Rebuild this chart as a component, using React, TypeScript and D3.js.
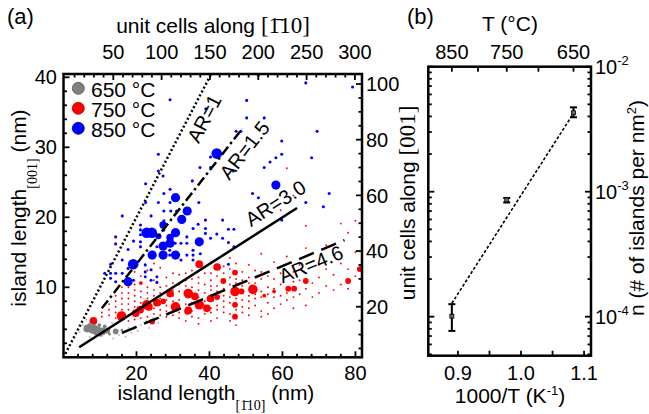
import React from 'react';
import * as d3 from 'd3';

const SANS = '"Liberation Sans", Arial, sans-serif';
const SERIF = '"Liberation Serif", "Times New Roman", serif';

// ---- panel (a): islands [length along [1-10] (nm), length along [001] (nm), count]
const islands850: [number, number, number][] = [
  [53.4, 40.3, 1], [66.4, 39.2, 1], [79.2, 38.6, 1], [29.2, 36.8, 1], [50.2, 36.7, 1], [39.0, 35.5, 1],
  [50.2, 34.2, 1], [55.0, 34.2, 1], [47.3, 32.3, 1], [48.6, 32.3, 1], [69.5, 32.3, 1], [59.8, 30.9, 1],
  [42.0, 29.1, 12], [59.8, 29.0, 1], [58.2, 28.5, 1], [56.6, 27.9, 1], [55.0, 27.1, 1], [68.0, 28.5, 1],
  [40.3, 27.1, 1], [46.5, 26.6, 1], [26.0, 29.0, 1], [26.0, 26.6, 1], [27.3, 25.9, 1], [22.5, 24.8, 1],
  [29.2, 24.0, 1], [27.5, 23.4, 1], [30.7, 22.8, 9], [22.5, 22.1, 1], [26.0, 22.1, 1], [29.2, 22.1, 1],
  [37.1, 22.1, 1], [35.3, 25.2, 1], [37.4, 27.1, 1], [40.3, 28.6, 1], [58.2, 24.6, 9], [51.8, 23.4, 1],
  [53.4, 22.8, 1], [72.8, 23.4, 1], [66.4, 22.1, 1], [71.2, 21.5, 1], [33.9, 20.9, 9], [27.5, 20.9, 1],
  [29.4, 20.9, 1], [31.0, 20.9, 1], [43.6, 19.6, 1], [59.8, 19.6, 1], [42.0, 17.6, 1], [45.2, 18.3, 1],
  [46.7, 18.3, 1], [40.3, 17.0, 1], [43.6, 17.0, 1], [45.2, 16.4, 1], [46.7, 15.8, 1], [45.2, 13.3, 1],
  [32.4, 19.7, 9], [37.2, 16.5, 9], [24.2, 17.8, 12], [22.8, 17.8, 12], [27.3, 18.9, 6], [30.7, 17.8, 9],
  [29.2, 17.1, 6], [27.3, 15.9, 9], [26.0, 17.3, 4], [24.3, 14.6, 9], [27.3, 14.6, 9], [30.7, 14.6, 9],
  [19.1, 13.3, 12], [17.7, 10.8, 9], [29.2, 16.3, 9],
  [16.1, 20.2, 1], [21.1, 18.9, 1], [21.1, 18.2, 1], [21.1, 17.5, 1], [21.1, 16.5, 1], [21.1, 15.8, 1],
  [14.3, 17.2, 1], [14.3, 16.2, 1], [12.9, 12.0, 1], [12.9, 11.3, 1], [14.3, 12.0, 1], [14.3, 10.8, 1],
  [16.1, 13.9, 1], [16.1, 12.0, 1], [17.7, 12.7, 1], [22.4, 13.2, 1], [22.4, 12.2, 1], [22.4, 11.5, 1],
  [24.0, 12.5, 1], [24.0, 11.0, 1], [25.6, 11.5, 1], [25.6, 10.7, 1], [27.5, 18.2, 1], [27.5, 19.5, 1],
  [30.6, 16.3, 1], [32.2, 16.3, 1], [33.8, 17.2, 1], [33.8, 16.3, 1], [35.5, 15.3, 1], [35.5, 14.6, 1],
  [35.5, 13.9, 1], [37.5, 14.8, 1], [38.9, 19.6, 1], [38.9, 18.4, 1], [38.9, 17.7, 1], [29.1, 15.3, 1],
  [29.1, 14.6, 1], [25.6, 15.8, 1], [19.2, 11.0, 1], [17.7, 15.4, 1], [19.2, 16.6, 1], [32.2, 13.9, 1],
  [33.8, 14.6, 1], [24.0, 20.2, 1], [35.5, 18.4, 1], [36.9, 19.0, 1], [12.9, 13.3, 1], [11.3, 12.0, 1],
];

const islands750Large: [number, number, number][] = [
  [37.2, 13.3, 16], [42.1, 12.9, 16], [47.0, 9.4, 25], [51.9, 9.7, 25], [34.2, 9.1, 25], [37.2, 7.5, 25],
  [34.2, 6.7, 16], [29.2, 9.1, 16], [22.8, 7.5, 25], [21.0, 6.8, 16], [19.8, 6.3, 16], [15.9, 5.9, 25],
  [8.2, 5.2, 16], [40.3, 8.4, 16], [30.7, 7.2, 25], [24.3, 5.1, 9], [47.0, 12.1, 9], [43.8, 10.9, 9],
  [48.8, 9.4, 9], [42.1, 8.6, 9], [47.0, 7.5, 9], [47.0, 5.8, 9], [61.6, 9.8, 9], [63.2, 9.8, 9],
  [66.4, 10.9, 9], [78.0, 10.9, 9], [81.2, 12.6, 9], [25.6, 7.8, 16], [27.3, 8.0, 9], [36.0, 8.7, 16],
  [39.3, 7.0, 16], [33.9, 6.5, 9], [23.4, 7.2, 16], [21.2, 10.6, 4], [55.0, 8.8, 4], [57.7, 9.4, 4],
];

// single islands, one column of lengths along [001] for each length along [1-10]
const islands750Columns: [number, number[]][] = [
  [10.5, [5.8, 6.4]],
  [12.5, [6.0, 6.8, 7.6]],
  [14.3, [5.6, 6.4, 7.2, 8.0, 8.8]],
  [16.0, [6.8, 7.6, 8.4, 9.2, 10.0]],
  [17.8, [5.2, 6.0, 6.8, 7.6, 8.4, 9.2, 10.0, 11.2]],
  [19.5, [5.4, 7.2, 8.0, 8.8, 9.6, 10.4, 12.2]],
  [21.2, [5.6, 7.8, 8.6, 9.4, 11.6]],
  [23.0, [5.8, 8.4, 9.2, 10.0, 12.4]],
  [24.8, [6.2, 7.0, 8.0, 8.8, 9.6, 11.0, 13.4]],
  [26.5, [6.0, 6.8, 7.6, 8.4, 9.2, 10.0, 12.8]],
  [28.2, [5.8, 6.6, 7.4, 8.2, 10.2, 11.4]],
  [30.0, [6.0, 8.0, 8.8, 9.6, 10.6, 12.0]],
  [31.7, [5.6, 6.4, 8.2, 9.4, 10.4, 11.8]],
  [33.5, [5.2, 7.6, 10.2, 11.0, 12.0]],
  [35.2, [5.8, 6.6, 7.8, 9.0, 10.0, 11.2, 12.4]],
  [37.0, [4.8, 5.6, 8.6, 9.6, 10.6, 11.4]],
  [38.7, [6.2, 7.4, 8.0, 9.2, 10.4, 12.0]],
  [40.4, [5.2, 6.4, 7.0, 9.6, 10.2, 11.0, 12.0, 13.6]],
  [42.1, [5.6, 6.8, 7.4, 9.4, 10.2, 11.6, 14.0]],
  [43.9, [6.4, 7.2, 8.0, 8.8, 9.8, 12.0, 13.0]],
  [45.6, [5.2, 6.2, 7.8, 8.6, 10.4, 11.4, 12.6, 14.2]],
  [47.3, [4.6, 6.8, 8.4, 10.6, 11.2, 13.4]],
  [49.0, [6.4, 7.2, 8.2, 10.2, 11.0, 12.2]],
  [50.8, [6.0, 7.0, 8.0, 8.8, 10.6, 11.4, 13.2]],
  [52.5, [7.4, 8.4, 9.0, 10.6, 12.4]],
  [54.2, [5.8, 6.6, 8.6, 9.4, 11.2, 12.2, 14.8]],
  [56.0, [6.2, 7.8, 9.0, 10.0, 11.6]],
  [57.7, [7.0, 8.6, 9.8, 11.2, 13.6]],
  [59.5, [7.6, 8.8, 10.4, 12.0, 21.0]],
  [61.2, [8.2, 9.2, 11.6, 14.4, 27.0]],
  [63.0, [7.0, 8.6, 10.8, 12.2, 23.1]],
  [64.7, [9.0, 11.0, 13.2]],
  [66.4, [7.4, 9.8, 12.0, 15.6, 18.8]],
  [68.2, [8.6, 10.6]],
  [70.0, [9.2, 11.4, 13.2]],
  [72.0, [10.2, 12.6, 16.0]],
  [74.0, [9.6, 11.8]],
  [76.0, [10.4, 13.4, 19.1]],
  [78.0, [9.8, 12.6, 17.8]],
  [80.0, [11.6, 15.0, 19.5]],
];

const islands650: [number, number, number][] = [
  [6.5, 4.1, 16], [7.4, 4.2, 25], [8.3, 4.0, 25], [9.3, 3.9, 16], [10.6, 3.7, 16], [12.0, 3.8, 9],
  [14.3, 3.7, 9], [9.8, 4.6, 4], [11.3, 4.4, 4], [8.8, 3.4, 4], [10.2, 3.2, 4], [12.6, 3.3, 2],
  [16.0, 3.9, 2], [17.8, 4.2, 1], [19.5, 4.4, 1], [21.2, 4.6, 1], [5.3, 4.6, 1], [6.2, 5.4, 1],
  [13.3, 4.9, 1], [15.2, 3.2, 1], [18.6, 3.5, 1], [22.6, 5.2, 1], [24.5, 5.6, 1], [26.0, 4.9, 1],
  [20.3, 3.8, 1], [23.5, 4.2, 1], [4.4, 3.6, 1], [7.2, 2.9, 1], [13.6, 2.7, 1], [17.0, 2.9, 1],
];

// aspect ratio guides
const arValues = [1, 1.5, 3.0, 4.6];
const arNames = ['AR=1', 'AR=1.5', 'AR=3.0', 'AR=4.6'];
const arFrom = [0.5, 10.5, 4.3, 16];
const arTo = [40.4, 49, 64, 77];

// ---- panel (b): island density vs temperature
const tempC = [850, 750, 650];
const density = [1.01e-4, 8.6e-4, 4.28e-3];
const densityLow = [7.7e-5, 8.2e-4, 3.94e-3];
const densityHigh = [1.26e-4, 8.9e-4, 4.73e-3];
const fitDensity = [1.28e-4, 4.24e-3];
const topTempTicks = [850, 800, 750, 700, 650];
const topTempLabels = [850, 750, 650];

const invT = (c: number) => 1000 / (c + 273.15);

export default function App() {
  // panel (a) scales
  const x = d3.scaleLinear().domain([0, 81.8]).range([63.5, 362]);
  const y = d3.scaleLinear().domain([0, 40.47]).range([357.3, 74]);
  const xTop = d3.scaleLinear().domain([-1.5, 307.3]).range([63.5, 362]);
  const yRight = d3.scaleLinear().domain([1.83, 103.6]).range([357.3, 74]);
  const rBlue = d3.scaleSqrt().domain([0, 12]).range([0, 5.3]);
  const rRed = d3.scaleSqrt().domain([0, 25]).range([0, 4.8]);

  // panel (b) scales
  const bx = d3.scaleLinear().domain([0.853, 1.111]).range([428.3, 591]);
  const by = d3.scaleLog().domain([Math.pow(10, -4.312), 1e-2]).range([355.7, 66.7]);

  const [ax0, ax1] = x.range();
  const [ay0, ay1] = y.range();
  const [bx0, bx1] = bx.range();
  const [by0, by1] = by.range();

  const red750 = [
    ...islands750Columns.flatMap(([cx, ys]) => ys.map((v) => [cx, v, 1] as [number, number, number])),
    ...islands750Large,
  ];

  const tick = (x1: number, y1: number, x2: number, y2: number, k: string) => (
    <line key={k} x1={x1} y1={y1} x2={x2} y2={y2} stroke="#000" strokeWidth={1.8} />
  );

  // ticks for panel (a)
  const aTicks: JSX.Element[] = [];
  d3.range(2, 41, 2).forEach((v) => {
    const len = v % 10 === 0 ? 6 : 3.5;
    aTicks.push(tick(ax0, y(v), ax0 + len, y(v), `l${v}`));
  });
  d3.range(5, 104, 5).forEach((v) => {
    const len = v % 20 === 0 ? 6 : 3.5;
    aTicks.push(tick(ax1, yRight(v), ax1 - len, yRight(v), `r${v}`));
  });
  d3.range(4, 82, 4).forEach((v) => {
    const len = v % 20 === 0 ? 6 : 3.5;
    aTicks.push(tick(x(v), ay0, x(v), ay0 - len, `b${v}`));
  });
  d3.range(10, 307, 10).forEach((v) => {
    const len = v % 50 === 0 ? 6 : 3.5;
    aTicks.push(tick(xTop(v), ay1, xTop(v), ay1 + len, `t${v}`));
  });

  // ticks for panel (b)
  const bTicks: JSX.Element[] = [];
  by.ticks().forEach((v, i) => {
    const major = Math.abs(Math.log10(v) - Math.round(Math.log10(v))) < 1e-6;
    const len = major ? 6 : 3.5;
    bTicks.push(tick(bx0, by(v), bx0 + len, by(v), `bl${i}`));
    bTicks.push(tick(bx1, by(v), bx1 - len, by(v), `br${i}`));
  });
  [0.9, 0.95, 1.0, 1.05, 1.1].forEach((v, i) => {
    bTicks.push(tick(bx(v), by0, bx(v), by0 - 5, `bb${i}`));
  });
  topTempTicks.forEach((t) => {
    bTicks.push(tick(bx(invT(t)), by1, bx(invT(t)), by1 + 5, `bt${t}`));
  });

  const legend = [
    { label: '650 °C', fill: '#808080', stroke: '#555' },
    { label: '750 °C', fill: '#ff0000', stroke: '#b00000' },
    { label: '850 °C', fill: '#0000ff', stroke: '#0000a0' },
  ];

  const arDash = ['2,2.4', '10,3.5,2.5,3.5', undefined, '16,8'];
  const arLabelAt: [number, number][] = [[38.6, 34.1], [49.6, 29.6], [58.1, 22.0], [67.8, 13.3]];

  return (
    <svg width={649} height={414} style={{ display: 'block', position: 'absolute', left: 0, top: 0 }} fontFamily={SANS}>
      <rect width={649} height={414} fill="#fff" />

      {/* ---------- panel (a) ---------- */}
      <text x={7} y={24} fontSize={22}>(a)</text>

      {red750.map(([a, b, n], i) => (
        <circle key={`r${i}`} cx={x(a)} cy={y(b)} r={rRed(n)} fill="#ff0000" />
      ))}
      {islands850.map(([a, b, n], i) => (
        <circle key={`u${i}`} cx={x(a)} cy={y(b)} r={rBlue(n)} fill="#0000ff" />
      ))}
      {islands650.map(([a, b, n], i) => (
        <circle key={`g${i}`} cx={x(a)} cy={y(b)} r={rRed(n)} fill={n > 1 ? '#808080' : '#b4b4b4'} />
      ))}

      {arValues.map((ar, i) => (
        <line key={`ar${i}`} x1={x(arFrom[i])} y1={y(arFrom[i] / ar)} x2={x(arTo[i])} y2={y(arTo[i] / ar)}
          stroke="#000" strokeWidth={2.5} strokeDasharray={arDash[i]} />
      ))}
      {arValues.map((ar, i) => {
        const ang = (Math.atan2(y(10 / ar) - y(0), x(10) - x(0)) * 180) / Math.PI;
        const [lx, ly] = arLabelAt[i];
        return (
          <text key={`arl${i}`} transform={`translate(${x(lx)},${y(ly)}) rotate(${ang})`}
            textAnchor="middle" dominantBaseline="central" fontSize={20}>{arNames[i]}</text>
        );
      })}

      {legend.map((d, i) => (
        <g key={d.label}>
          <circle cx={78.3} cy={88.3 + i * 20} r={6} fill={d.fill} stroke={d.stroke} strokeWidth={0.8} />
          <text x={91} y={96.5 + i * 20} fontSize={21}>{d.label}</text>
        </g>
      ))}

      <rect x={ax0} y={ay1} width={ax1 - ax0} height={ay0 - ay1} fill="none" stroke="#000" strokeWidth={2.5} />
      {aTicks}

      {[10, 20, 30, 40].map((v) => (
        <text key={`yl${v}`} x={57} y={y(v) + 7.2} fontSize={20} textAnchor="end">{v}</text>
      ))}
      {[20, 40, 60, 80].map((v) => (
        <text key={`xl${v}`} x={x(v)} y={380} fontSize={20} textAnchor="middle">{v}</text>
      ))}
      {[50, 100, 150, 200, 250, 300].map((v) => (
        <text key={`tl${v}`} x={xTop(v)} y={59} fontSize={20} textAnchor="middle">{v}</text>
      ))}
      {[20, 40, 60, 80, 100].map((v) => (
        <text key={`rl${v}`} x={366} y={yRight(v) + 7.2} fontSize={20}>{v}</text>
      ))}

      <text x={213} y={33} fontSize={21} textAnchor="middle">
        unit cells along <tspan fontFamily={SERIF} fontSize={23}>[1{'\u0304'}10]</tspan>
      </text>
      <text x={216} y={400} fontSize={21} textAnchor="middle">
        island length<tspan fontFamily={SERIF} fontSize={14} dy={10}>[1{'\u0304'}10]</tspan>
        <tspan dy={-10}> (nm)</tspan>
      </text>
      <text transform="translate(26,208) rotate(-90)" fontSize={21} textAnchor="middle">
        island length<tspan fontFamily={SERIF} fontSize={14} dy={11}>[001]</tspan>
        <tspan dy={-11}> (nm)</tspan>
      </text>
      <text transform="translate(415,203) rotate(-90)" fontSize={21} textAnchor="middle">
        unit cells along <tspan fontFamily={SERIF} fontSize={23}>[001]</tspan>
      </text>

      {/* ---------- panel (b) ---------- */}
      <text x={407} y={24} fontSize={22}>(b)</text>
      <text x={510} y={31} fontSize={21} textAnchor="middle">T (°C)</text>

      <line x1={bx(invT(tempC[0]))} y1={by(fitDensity[0])} x2={bx(invT(tempC[2]))} y2={by(fitDensity[1])}
        stroke="#000" strokeWidth={1.6} strokeDasharray="3,2" />

      {tempC.map((t, i) => {
        const cx = bx(invT(t));
        return (
          <g key={`pt${t}`}>
            <line x1={cx} y1={by(densityLow[i])} x2={cx} y2={by(densityHigh[i])} stroke="#000" strokeWidth={2} />
            <line x1={cx - 3.5} y1={by(densityLow[i])} x2={cx + 3.5} y2={by(densityLow[i])} stroke="#000" strokeWidth={2} />
            <line x1={cx - 3.5} y1={by(densityHigh[i])} x2={cx + 3.5} y2={by(densityHigh[i])} stroke="#000" strokeWidth={2} />
            <rect x={cx - 2} y={by(density[i]) - 2} width={4} height={4} fill="#666" stroke="#000" strokeWidth={0.8} />
          </g>
        );
      })}

      <rect x={bx0} y={by1} width={bx1 - bx0} height={by0 - by1} fill="none" stroke="#000" strokeWidth={2.5} />
      {bTicks}

      {[0.9, 1.0, 1.1].map((v) => (
        <text key={`bxl${v}`} x={bx(v)} y={380} fontSize={20} textAnchor="middle">{v.toFixed(1)}</text>
      ))}
      {topTempLabels.map((t) => (
        <text key={`btl${t}`} x={bx(invT(t))} y={59} fontSize={20} textAnchor="middle">{t}</text>
      ))}
      {[-2, -3, -4].map((e) => (
        <text key={`byl${e}`} x={595} y={by(Math.pow(10, e)) + 7.2} fontSize={20}>
          10<tspan fontSize={13} dy={-9}>{e}</tspan>
        </text>
      ))}

      <text x={510} y={403} fontSize={21} textAnchor="middle">
        1000/T (K<tspan fontSize={13} dy={-8}>-1</tspan><tspan dy={8}>)</tspan>
      </text>
      <text transform="translate(644,208) rotate(-90)" fontSize={21} textAnchor="middle">
        n (# of islands per nm<tspan fontSize={13} dy={-8}>2</tspan><tspan dy={8}>)</tspan>
      </text>
    </svg>
  );
}
